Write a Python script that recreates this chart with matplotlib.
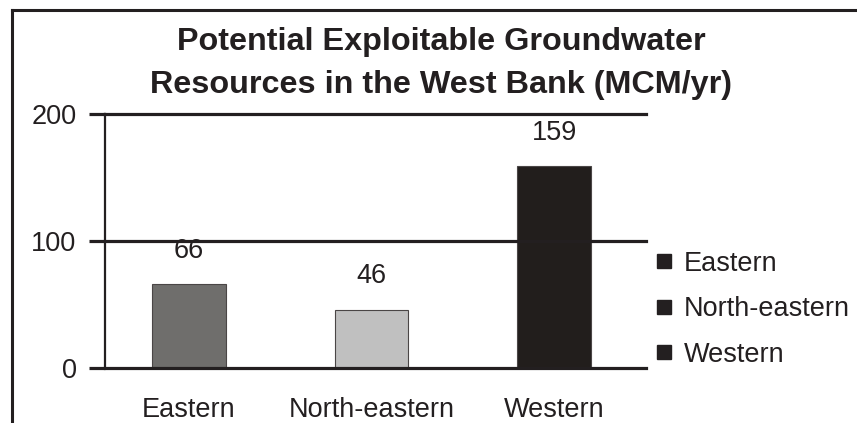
import matplotlib
matplotlib.use("Agg")
import matplotlib.pyplot as plt
from matplotlib.lines import Line2D

# Aquifer basins and their potential exploitable groundwater (MCM/yr)
basins = ["Eastern", "North-eastern", "Western"]
volumes = [66, 46, 159]
bar_colors = ["#6f6e6c", "#c0c0c0", "#221e1c"]
y_ticks = [0, 100, 200]
title_lines = ["Potential Exploitable Groundwater",
               "Resources in the West Bank (MCM/yr)"]

ink = "#231f20"
fs = 19.5
plt.rcParams["font.family"] = ["Liberation Sans", "DejaVu Sans"]

W, H = 857, 423
fig = plt.figure(figsize=(W / 100, H / 100), dpi=100)
ax = fig.add_axes([105 / W, 1 - 368 / H, (646 - 105) / W, (368 - 114) / H])

x = list(range(len(basins)))
ax.bar(x, volumes, width=0.405, color=bar_colors, edgecolor="#4a4646",
       linewidth=0.8, zorder=2)

for xi, v in zip(x, volumes):
    ax.annotate(str(v), (xi, v), xytext=(0, 24), textcoords="offset points",
                ha="center", va="center", fontsize=fs, color=ink)

ax.set_xlim(-0.46, 2.504)
ax.set_ylim(0, 200)

for t in y_ticks:
    ax.axhline(t, color=ink, linewidth=2.3, clip_on=False, zorder=3)

for side in ["top", "right", "bottom"]:
    ax.spines[side].set_visible(False)
ax.spines["left"].set_color(ink)
ax.spines["left"].set_linewidth(1.6)

ax.set_yticks(y_ticks)
ax.set_yticklabels([str(t) for t in y_ticks])
ax.tick_params(axis="y", length=11.5, width=2.3, color=ink, pad=9,
               labelsize=fs, labelcolor=ink)
ax.set_xticks(x)
ax.set_xticklabels(basins)
ax.tick_params(axis="x", length=0, pad=21, labelsize=fs, labelcolor=ink)

# Legend with plain black square keys
handles = [Line2D([], [], linestyle="none", marker="s", markersize=10,
                  markerfacecolor=ink, markeredgecolor=ink) for _ in basins]
leg = ax.legend(handles, basins, loc="center left",
                bbox_to_anchor=(643 / W, 1 - 309 / H),
                bbox_transform=fig.transFigure, frameon=False,
                fontsize=fs, handlelength=0.55, handletextpad=0.45,
                labelspacing=0.72, borderpad=0)
for txt in leg.get_texts():
    txt.set_color(ink)

# Title
fig.text(441 / W, 1 - 42 / H, title_lines[0], ha="center", va="center",
         fontsize=23.3, fontweight="bold", color=ink)
fig.text(441 / W, 1 - 85 / H, title_lines[1], ha="center", va="center",
         fontsize=23.3, fontweight="bold", color=ink)

# Outer frame (left and top edges)
fig.add_artist(Line2D([12 / W, 12 / W], [0, 1 - 10 / H], color=ink,
                      linewidth=2.2, transform=fig.transFigure))
fig.add_artist(Line2D([12 / W, 1], [1 - 10 / H, 1 - 10 / H], color=ink,
                      linewidth=2.2, transform=fig.transFigure))

fig.savefig("out.png", dpi=100, facecolor="white")
